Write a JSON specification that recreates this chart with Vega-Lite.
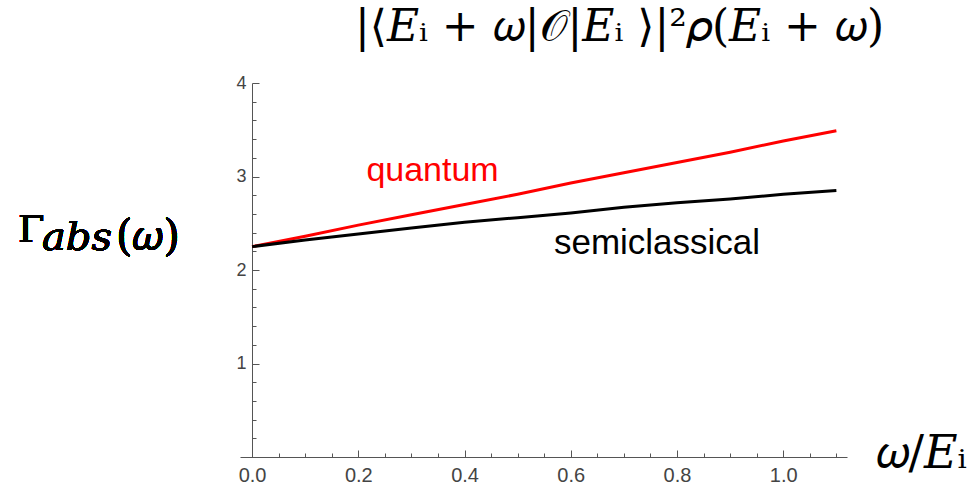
{
  "$schema": "https://vega.github.io/schema/vega-lite/v6.json",
  "width": 607,
  "height": 374,
  "autosize": "none",
  "padding": {"left": 240, "top": 83, "right": 132, "bottom": 28},
  "background": "white",
  "config": {"view": {"stroke": null}, "axis": {"grid": false}},
  "title": {
    "text": "|⟨𝐸ᵢ + 𝜔|𝒪|𝐸ᵢ ⟩|²𝜌(𝐸ᵢ + 𝜔)",
    "font": "DejaVu Serif",
    "fontSize": 44,
    "fontWeight": "normal",
    "color": "black",
    "anchor": "middle",
    "dx": 76,
    "offset": -20,
    "baseline": "bottom"
  },
  "data": {
    "values": [
      {"series": "quantum", "x": 0, "y": 2.25},
      {"series": "quantum", "x": 0.1, "y": 2.36},
      {"series": "quantum", "x": 0.2, "y": 2.48},
      {"series": "quantum", "x": 0.3, "y": 2.59},
      {"series": "quantum", "x": 0.4, "y": 2.70},
      {"series": "quantum", "x": 0.5, "y": 2.81},
      {"series": "quantum", "x": 0.6, "y": 2.93},
      {"series": "quantum", "x": 0.7, "y": 3.04},
      {"series": "quantum", "x": 0.8, "y": 3.15},
      {"series": "quantum", "x": 0.9, "y": 3.26},
      {"series": "quantum", "x": 1.0, "y": 3.38},
      {"series": "quantum", "x": 1.1, "y": 3.49},
      {"series": "semiclassical", "x": 0, "y": 2.25},
      {"series": "semiclassical", "x": 0.1, "y": 2.32},
      {"series": "semiclassical", "x": 0.2, "y": 2.385},
      {"series": "semiclassical", "x": 0.3, "y": 2.45},
      {"series": "semiclassical", "x": 0.4, "y": 2.51},
      {"series": "semiclassical", "x": 0.5, "y": 2.56},
      {"series": "semiclassical", "x": 0.6, "y": 2.61},
      {"series": "semiclassical", "x": 0.7, "y": 2.67},
      {"series": "semiclassical", "x": 0.8, "y": 2.72},
      {"series": "semiclassical", "x": 0.9, "y": 2.76},
      {"series": "semiclassical", "x": 1.0, "y": 2.81},
      {"series": "semiclassical", "x": 1.1, "y": 2.85}
    ]
  },
  "layer": [
    {
      "mark": {"type": "line", "strokeWidth": 3, "clip": false},
      "encoding": {
        "x": {
          "field": "x", "type": "quantitative",
          "scale": {"domain": [-0.0227, 1.12], "nice": false, "zero": false},
          "axis": {
            "orient": "bottom",
            "values": [0, 0.2, 0.4, 0.6, 0.8, 1.0],
            "format": ".1f",
            "tickSize": -7,
            "labelPadding": 15,
            "domainColor": "#555555",
            "tickColor": "#555555",
            "labelColor": "#444444",
            "labelFont": "Liberation Sans",
            "labelFontSize": 20,
            "title": "𝜔/𝐸ᵢ",
            "titleFont": "DejaVu Serif",
            "titleFontSize": 46,
            "titleFontWeight": "normal",
            "titleColor": "black",
            "titleAngle": 0,
            "titleAlign": "left",
            "titleBaseline": "alphabetic",
            "titleX": 635,
            "titleY": 10
          }
        },
        "y": {
          "field": "y", "type": "quantitative",
          "scale": {"domain": [0, 4], "nice": false, "zero": true},
          "axis": {
            "orient": "left",
            "offset": -12,
            "values": [1, 2, 3, 4],
            "format": "d",
            "tickSize": -7,
            "labelPadding": 13,
            "domainColor": "#555555",
            "tickColor": "#555555",
            "labelColor": "#444444",
            "labelFont": "Liberation Sans",
            "labelFontSize": 18,
            "title": null
          }
        },
        "color": {
          "field": "series", "type": "nominal",
          "scale": {"domain": ["quantum", "semiclassical"], "range": ["#ff0000", "#000000"]},
          "legend": null
        }
      }
    },
    {
      "mark": {"type": "point", "opacity": 0},
      "encoding": {
        "x": {
          "field": "x", "type": "quantitative",
          "axis": {
            "orient": "bottom",
            "values": [0.05, 0.1, 0.15, 0.25, 0.3, 0.35, 0.45, 0.5, 0.55, 0.65, 0.7, 0.75, 0.85, 0.9, 0.95, 1.05, 1.1],
            "tickSize": -4,
            "labels": false,
            "domain": false,
            "tickColor": "#555555",
            "title": null
          }
        },
        "y": {
          "field": "y", "type": "quantitative",
          "axis": {
            "orient": "left",
            "offset": -12,
            "values": [0.2, 0.4, 0.6, 0.8, 1.2, 1.4, 1.6, 1.8, 2.2, 2.4, 2.6, 2.8, 3.2, 3.4, 3.6, 3.8],
            "tickSize": -4,
            "labels": false,
            "domain": false,
            "tickColor": "#555555",
            "title": null
          }
        }
      }
    },
    {
      "transform": [{"filter": "datum.series == 'quantum' && datum.x == 0.4"}],
      "mark": {"type": "text", "font": "Liberation Sans", "fontSize": 34, "color": "#ff0000", "dx": -32, "dy": -34},
      "encoding": {
        "x": {"field": "x", "type": "quantitative", "axis": null},
        "y": {"field": "y", "type": "quantitative", "axis": null},
        "text": {"field": "series"}
      }
    },
    {
      "transform": [{"filter": "datum.series == 'semiclassical' && datum.x == 0.8"}],
      "mark": {"type": "text", "font": "Liberation Sans", "fontSize": 35, "color": "#000000", "dx": -20, "dy": 40},
      "encoding": {
        "x": {"field": "x", "type": "quantitative", "axis": null},
        "y": {"field": "y", "type": "quantitative", "axis": null},
        "text": {"field": "series"}
      }
    },
    {
      "mark": {"type": "text", "font": "DejaVu Serif", "fontSize": 38, "align": "left", "baseline": "alphabetic", "color": "black"},
      "encoding": {
        "x": {"datum": -0.4407, "type": "quantitative", "axis": null},
        "y": {"datum": 2.3, "type": "quantitative", "axis": null},
        "text": {"value": "Γ"}
      }
    },
    {
      "mark": {"type": "text", "font": "DejaVu Serif", "fontStyle": "italic", "fontSize": 40, "align": "left", "baseline": "alphabetic", "color": "black"},
      "encoding": {
        "x": {"datum": -0.3955, "type": "quantitative", "axis": null},
        "y": {"datum": 2.214, "type": "quantitative", "axis": null},
        "text": {"value": "abs"}
      }
    },
    {
      "mark": {"type": "text", "font": "DejaVu Serif", "fontSize": 42, "align": "left", "baseline": "alphabetic", "color": "black"},
      "encoding": {
        "x": {"datum": -0.256, "type": "quantitative", "axis": null},
        "y": {"datum": 2.214, "type": "quantitative", "axis": null},
        "text": {"value": "(𝜔)"}
      }
    }
  ],
  "resolve": {"axis": {"x": "independent", "y": "independent"}}
}
